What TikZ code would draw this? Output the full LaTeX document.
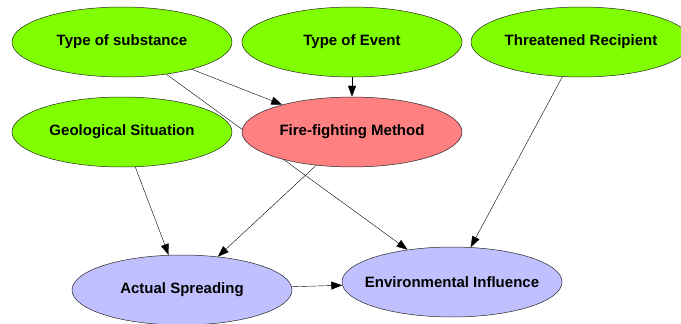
\documentclass[tikz,border=0pt]{standalone}
\usepackage{fontspec}
\setsansfont{Liberation Sans}
\usetikzlibrary{shapes.geometric}
\usetikzlibrary{arrows.meta}
\usetikzlibrary{backgrounds}

\definecolor{causegreen}{RGB}{128,255,0}
\definecolor{methodred}{RGB}{255,128,128}
\definecolor{effectblue}{RGB}{192,192,255}

\begin{document}
\begin{tikzpicture}[x=1pt, y=-1pt, ->, >={Triangle[length=11pt, width=8pt, color=black]}, draw=black!55, line width=0.6pt, font=\sffamily\bfseries\fontsize{15}{18}\selectfont]
    \tikzstyle{var}=[ellipse, draw=black!85, line width=0.5pt, minimum width=220pt, minimum height=70pt, inner ysep=0pt, inner xsep=-10pt]
    \tikzstyle{cause}=[var, fill=causegreen]
    \tikzstyle{method}=[var, fill=methodred]
    \tikzstyle{effect}=[var, fill=effectblue]

    \useasboundingbox (0,0) rectangle (681,324);

    %% Top row
    \node[cause] (sub) at (122,42) {Type of substance};
    \node[cause] (event) at (352,42) {Type of Event};
    \node[cause] (recip) at (581,42) {Threatened Recipient};

    %% Middle row
    \node[cause] (geo) at (122,132) {Geological Situation};
    \node[method] (fire) at (352,132) {Fire-fighting Method};

    %% Bottom row
    \node[effect] (spread) at (182,290) {Actual Spreading};
    \node[effect] (env) at (452,282) {Environmental Influence};

    \begin{scope}[on background layer]
    \draw (sub) -- (fire);
    \draw (sub) -- (env);
    \draw (event) -- (fire);
    \draw (recip) -- (env);
    \draw (geo) -- (spread);
    \draw (fire) -- (spread);
    \draw (spread) -- (env);
    \end{scope}
\end{tikzpicture}
\end{document}
